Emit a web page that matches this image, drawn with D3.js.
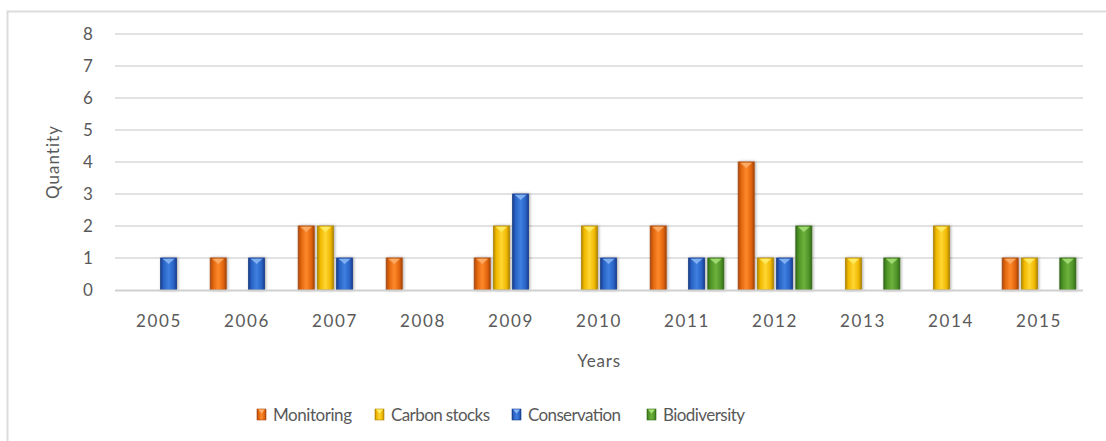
<!DOCTYPE html>
<html>
<head>
<meta charset="utf-8">
<script src="https://cdn.jsdelivr.net/npm/d3@7"></script>
<style>
  html, body { margin: 0; padding: 0; background: #fff; }
  svg { display: block; font-family: Lato, "Open Sans", sans-serif; }
</style>
</head>
<body>
<svg id="chart" width="1106" height="441"></svg>
<script>
// Publications per year by research theme
const years = ["2005", "2006", "2007", "2008", "2009", "2010", "2011", "2012", "2013", "2014", "2015"];
const seriesNames = ["Monitoring", "Carbon stocks", "Conservation", "Biodiversity"];
const monitoring   = [0, 1, 2, 1, 1, 0, 2, 4, 0, 0, 1];
const carbonStocks = [0, 0, 2, 0, 2, 2, 0, 1, 1, 2, 1];
const conservation = [1, 1, 1, 0, 3, 1, 1, 1, 0, 0, 0];
const biodiversity = [0, 0, 0, 0, 0, 0, 1, 2, 1, 0, 1];
const yTicks = [0, 1, 2, 3, 4, 5, 6, 7, 8];

const seriesValues = [monitoring, carbonStocks, conservation, biodiversity];
const palette = [
  { dark: "#a9460b", mid: "#e0640f", light: "#ff8a2a", tip: "#ffb070" },
  { dark: "#b08600", mid: "#f0b800", light: "#ffd633", tip: "#fff06a" },
  { dark: "#173f8c", mid: "#2a62c4", light: "#3f7fe0", tip: "#8cb8f5" },
  { dark: "#356b18", mid: "#4f9428", light: "#6cb23a", tip: "#a8e07a" }
];
const textColor = "#595959";

const svg = d3.select("#chart");
const defs = svg.append("defs");

palette.forEach((c, i) => {
  const g = defs.append("linearGradient").attr("id", "grad" + i)
    .attr("x1", "0").attr("x2", "1").attr("y1", "0").attr("y2", "0");
  [[0, c.dark], [0.18, c.mid], [0.5, c.light], [0.82, c.mid], [1, c.dark]]
    .forEach(([o, col]) => g.append("stop").attr("offset", o).attr("stop-color", col));
});
const shadow = defs.append("filter").attr("id", "shadow")
  .attr("x", "-30%").attr("y", "-10%").attr("width", "160%").attr("height", "120%");
shadow.append("feDropShadow").attr("dx", 1).attr("dy", 0).attr("stdDeviation", 1.4)
  .attr("flood-color", "#000").attr("flood-opacity", 0.35);

// outer frame
svg.append("rect")
  .attr("x", 7.5).attr("y", 11.5).attr("width", 1110).attr("height", 440)
  .attr("fill", "none").attr("stroke", "#dcdcdc").attr("stroke-width", 2);

const x = d3.scaleBand().domain(years).range([115, 1083]).padding(0);
const xs = d3.scaleBand().domain(seriesNames).range([0, x.bandwidth()])
  .paddingInner(0.167).paddingOuter(0.375);
const y = d3.scaleLinear().domain([0, 8]).range([290, 34]);

// gridlines
svg.append("g").selectAll("line").data(yTicks.filter(t => t > 0)).join("line")
  .attr("x1", 115).attr("x2", 1083)
  .attr("y1", d => y(d)).attr("y2", d => y(d))
  .attr("stroke", "#d9d9d9").attr("stroke-width", 1.5);

// y axis labels
const yAxis = d3.axisLeft(y).tickValues(yTicks).tickSize(0).tickPadding(0);
svg.append("g").attr("transform", "translate(88,0)").call(yAxis)
  .call(g => g.select(".domain").remove())
  .call(g => g.selectAll("text").attr("fill", textColor).attr("font-size", 17)
    .attr("font-family", "Lato, sans-serif").attr("text-anchor", "middle"));

// bars
const bars = svg.append("g");
seriesNames.forEach((name, si) => {
  const data = years.map((yr, i) => ({ yr, v: seriesValues[si][i] })).filter(d => d.v > 0);
  const grp = bars.append("g");
  const bw = xs.bandwidth();
  grp.selectAll("rect").data(data).join("rect")
    .attr("x", d => x(d.yr) + xs(name))
    .attr("y", d => y(d.v))
    .attr("width", bw)
    .attr("height", d => y(0) - y(d.v))
    .attr("fill", `url(#grad${si})`)
    .attr("stroke", palette[si].dark).attr("stroke-width", 0.8)
    .attr("filter", "url(#shadow)");
  grp.selectAll("path").data(data).join("path")
    .attr("d", d => {
      const x0 = x(d.yr) + xs(name), t = y(d.v);
      return `M${x0 + 2},${t + 0.8} L${x0 + bw - 2},${t + 0.8} L${x0 + bw / 2},${t + 6} Z`;
    })
    .attr("fill", palette[si].tip).attr("opacity", 0.85);
});

// baseline
svg.append("line").attr("x1", 115).attr("x2", 1083)
  .attr("y1", y(0) + 0.5).attr("y2", y(0) + 0.5)
  .attr("stroke", "#d0d0d0").attr("stroke-width", 2);

// x axis labels
const xAxis = d3.axisBottom(x).tickSize(0).tickPadding(0);
svg.append("g").call(xAxis)
  .call(g => g.select(".domain").remove())
  .call(g => g.selectAll("text").attr("fill", textColor).attr("font-size", 17)
    .attr("font-family", "Lato, sans-serif")
    .attr("y", 327).attr("dy", null).attr("letter-spacing", 1.6));

// axis titles
svg.append("text").attr("x", 599).attr("y", 367).attr("text-anchor", "middle")
  .attr("fill", textColor).attr("font-size", 17).attr("letter-spacing", 0.8).text("Years");
svg.append("text").attr("transform", "translate(59,162) rotate(-90)")
  .attr("text-anchor", "middle").attr("fill", textColor).attr("font-size", 17)
  .attr("letter-spacing", 1).text("Quantity");

// legend
const legendX = [257, 375, 512, 647];
const legendW = [79, 99, 93, 82];
const legend = svg.append("g");
seriesNames.forEach((name, si) => {
  const g = legend.append("g").attr("transform", `translate(${legendX[si]},409)`);
  g.append("rect").attr("width", 9).attr("height", 11)
    .attr("fill", `url(#grad${si})`).attr("stroke", palette[si].dark).attr("stroke-width", 0.6);
  g.append("path").attr("d", "M1,0.6 L8,0.6 L4.5,4.5 Z").attr("fill", palette[si].tip);
  g.append("text").attr("x", 16).attr("y", 11.5).attr("fill", textColor)
    .attr("font-size", 17).attr("textLength", legendW[si]).attr("lengthAdjust", "spacing")
    .text(name);
});
</script>
</body>
</html>
